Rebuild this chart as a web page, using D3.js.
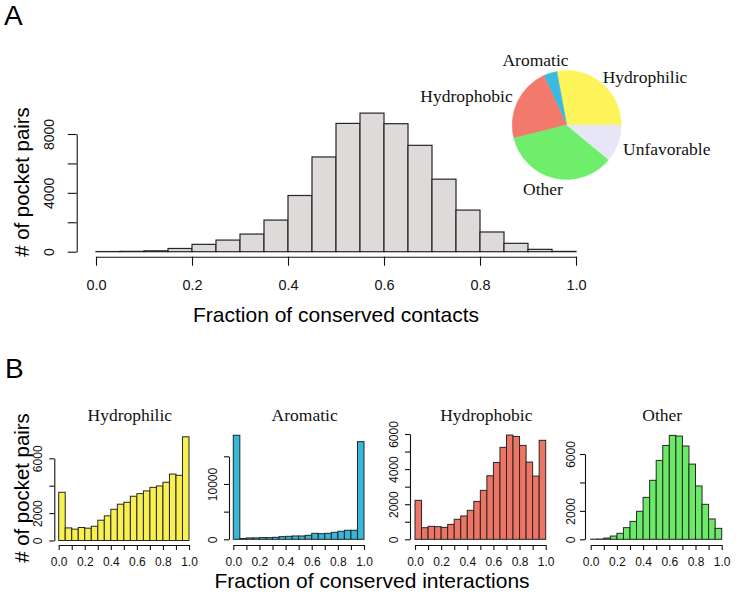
<!DOCTYPE html>
<html><head><meta charset="utf-8">
<script src="https://cdn.jsdelivr.net/npm/d3@7"></script>
<style>body{margin:0;background:#fff}svg{display:block}</style>
</head><body><svg id="c" width="737" height="599"></svg>
<script>
// ---------- data ----------
const conservedContacts = [10, 25, 60, 220, 500, 790, 1200, 2150, 3820, 6440, 8720, 9420, 8700, 7230, 4930, 2830, 1340, 570, 160, 20];
const hydrophilicCounts = [3520, 920, 830, 950, 900, 1040, 1480, 1800, 2280, 2650, 2790, 3230, 3420, 3620, 3880, 3980, 4250, 4850, 4760, 7570];
const aromaticCounts = [18800, 150, 250, 250, 300, 300, 360, 480, 540, 600, 600, 720, 1080, 1020, 1080, 1260, 1450, 1630, 1630, 17650];
const hydrophobicCounts = [2220, 660, 740, 720, 680, 850, 1140, 1330, 1650, 2160, 2790, 3620, 4380, 5240, 5940, 5860, 5350, 4400, 3600, 5640];
const otherCounts = [10, 20, 90, 230, 420, 820, 1260, 1970, 2950, 4150, 5550, 6600, 7310, 7260, 6560, 5290, 3750, 2460, 1430, 770];

const pieLabels = ["Hydrophilic", "Aromatic", "Hydrophobic", "Other", "Unfavorable"];
const pieShares = [0.279, 0.040, 0.220, 0.351, 0.110];

const topXTicks = [0, 0.2, 0.4, 0.6, 0.8, 1.0];
const topYTicks = [0, 2000, 4000, 6000, 8000];
const topYLabels = [0, 4000, 8000];
const bottomXTicks = [0, 0.1, 0.2, 0.3, 0.4, 0.5, 0.6, 0.7, 0.8, 0.9, 1.0];
const bottomXLabels = [0, 0.2, 0.4, 0.6, 0.8, 1.0];

// ---------- styles ----------
const pieColors = ["#fdf35b", "#3bbadf", "#f27a6c", "#6fee6c", "#e6e6f7"];
const histColors = {Hydrophilic: "#f8ef50", Aromatic: "#37b6d8", Hydrophobic: "#ee7565", Other: "#6aea66"};
const SANS = "Liberation Sans, Arial, sans-serif";
const SERIF = "Liberation Serif, Times New Roman, serif";

const svg = d3.select("#c");

function drawHist(g, values, x, y, fill, sw) {
  const w = 1 / values.length;
  g.append("g").selectAll("rect").data(values).join("rect")
    .attr("x", (d, i) => x(i * w))
    .attr("width", (d, i) => x((i + 1) * w) - x(i * w))
    .attr("y", d => y(d))
    .attr("height", d => y(0) - y(d))
    .attr("fill", fill).attr("stroke", "#262626").attr("stroke-width", sw);
}

function styleAxis(g, size) {
  g.select(".domain").attr("stroke", "#111").attr("stroke-width", 1.1);
  g.selectAll(".tick line").attr("stroke", "#111").attr("stroke-width", 1.1);
  g.selectAll(".tick text").attr("font-family", SANS).attr("font-size", size).attr("fill", "#111");
}

// ---------- panel A ----------
const xA = d3.scaleLinear().domain([0, 1]).range([96, 576]);
const yA = d3.scaleLinear().domain([0, 8000]).range([251.7, 134]);
drawHist(svg.append("g"), conservedContacts, xA, yA, "#dddad9", 1.2);

const axAx = svg.append("g").attr("transform", "translate(0,256.7)")
  .call(d3.axisBottom(xA).tickValues(topXTicks).tickSize(9).tickSizeOuter(0).tickFormat(d3.format(".1f")));
styleAxis(axAx, 14.5);
axAx.selectAll(".tick text").attr("y", 33.6).attr("dy", 0);

const ayA = svg.append("g").attr("transform", "translate(76.7,0)")
  .call(d3.axisLeft(yA).tickValues(topYTicks).tickSize(9).tickSizeOuter(0)
    .tickFormat(d => topYLabels.includes(d) ? d3.format("d")(d) : ""));
styleAxis(ayA, 14);
ayA.selectAll(".tick text").attr("x", 0).attr("y", 0).attr("dy", 0)
  .attr("text-anchor", "middle").attr("transform", "translate(-22.5,0) rotate(-90)");

svg.append("text").attr("x", 336).attr("y", 322).attr("text-anchor", "middle")
  .attr("font-family", SANS).attr("font-size", 21).text("Fraction of conserved contacts");
svg.append("text").attr("transform", "translate(29,182) rotate(-90)").attr("text-anchor", "middle")
  .attr("font-family", SANS).attr("font-size", 20.4).text("# of pocket pairs");
svg.append("text").attr("x", 4).attr("y", 25).attr("font-family", SANS).attr("font-size", 28).text("A");

// pie (counter-clockwise from 3 o'clock, like R)
const pieC = [566.7, 125], pieR = 54.5;
const arcs = d3.pie().sort(null).startAngle(Math.PI / 2).endAngle(Math.PI / 2 - 2 * Math.PI)(pieShares);
const arcGen = d3.arc().innerRadius(0).outerRadius(pieR);
svg.append("g").attr("transform", `translate(${pieC[0]},${pieC[1]})`)
  .selectAll("path").data(arcs).join("path")
  .attr("d", arcGen).attr("fill", (d, i) => pieColors[i]).attr("stroke", (d, i) => pieColors[i]).attr("stroke-width", 0.5);

const pieLabelPos = [
  {x: 602.7, y: 82.5, anchor: "start"},
  {x: 535.5, y: 65.5, anchor: "middle"},
  {x: 512.7, y: 102, anchor: "end"},
  {x: 543, y: 195, anchor: "middle"},
  {x: 623, y: 155, anchor: "start"}
];
svg.append("g").selectAll("text").data(pieLabels).join("text")
  .attr("x", (d, i) => pieLabelPos[i].x).attr("y", (d, i) => pieLabelPos[i].y)
  .attr("text-anchor", (d, i) => pieLabelPos[i].anchor)
  .attr("font-family", SERIF).attr("font-size", 17.5).attr("fill", "#111").text(d => d);

// ---------- panel B ----------
const panels = [
  {name: "Hydrophilic", values: hydrophilicCounts, x0: 58.7, x1: 189, ax: 54.3, y0: 540.5, top: 6000, topPx: 458.3,
   ticks: [0, 2000, 4000, 6000], labels: [0, 2000, 6000], off: 12.5},
  {name: "Aromatic", values: aromaticCounts, x0: 233.3, x1: 364, ax: 229, y0: 539.3, top: 15000, topPx: 456.3,
   ticks: [0, 5000, 10000, 15000], labels: [0, 10000], off: 12},
  {name: "Hydrophobic", values: hydrophobicCounts, x0: 415, x1: 545.7, ax: 410, y0: 539.3, top: 6000, topPx: 434,
   ticks: [0, 1000, 2000, 3000, 4000, 5000, 6000], labels: [0, 2000, 4000, 6000], off: 12.5},
  {name: "Other", values: otherCounts, x0: 590.7, x1: 721.7, ax: 585, y0: 539.3, top: 6000, topPx: 454,
   ticks: [0, 2000, 4000, 6000], labels: [0, 2000, 6000], off: 10.5}
];

panels.forEach(p => {
  const g = svg.append("g");
  const x = d3.scaleLinear().domain([0, 1]).range([p.x0, p.x1]);
  const y = d3.scaleLinear().domain([0, p.top]).range([p.y0, p.topPx]);
  drawHist(g, p.values, x, y, histColors[p.name], 1);

  const ax = g.append("g").attr("transform", "translate(0,545)")
    .call(d3.axisBottom(x).tickValues(bottomXTicks).tickSize(5).tickSizeOuter(0)
      .tickFormat(d => bottomXLabels.some(v => Math.abs(v - d) < 1e-9) ? d3.format(".1f")(d) : ""));
  styleAxis(ax, 12);
  ax.selectAll(".tick text").attr("y", 21).attr("dy", 0);

  const ay = g.append("g").attr("transform", `translate(${p.ax},0)`)
    .call(d3.axisLeft(y).tickValues(p.ticks).tickSize(5).tickSizeOuter(0)
      .tickFormat(d => p.labels.includes(d) ? d3.format("d")(d) : ""));
  styleAxis(ay, 12);
  ay.selectAll(".tick text").attr("x", 0).attr("y", 0).attr("dy", 0)
    .attr("text-anchor", "middle").attr("transform", `translate(${-p.off},0) rotate(-90)`);

  g.append("text").attr("x", (p.x0 + p.x1) / 2 + 6).attr("y", 421).attr("text-anchor", "middle")
    .attr("font-family", SERIF).attr("font-size", 17.5).attr("fill", "#111").text(p.name);
});

svg.append("text").attr("x", 372).attr("y", 588).attr("text-anchor", "middle")
  .attr("font-family", SANS).attr("font-size", 21).text("Fraction of conserved interactions");
svg.append("text").attr("transform", "translate(29,488) rotate(-90)").attr("text-anchor", "middle")
  .attr("font-family", SANS).attr("font-size", 20.4).text("# of pocket pairs");
svg.append("text").attr("x", 5).attr("y", 378).attr("font-family", SANS).attr("font-size", 28).text("B");
</script></body></html>
